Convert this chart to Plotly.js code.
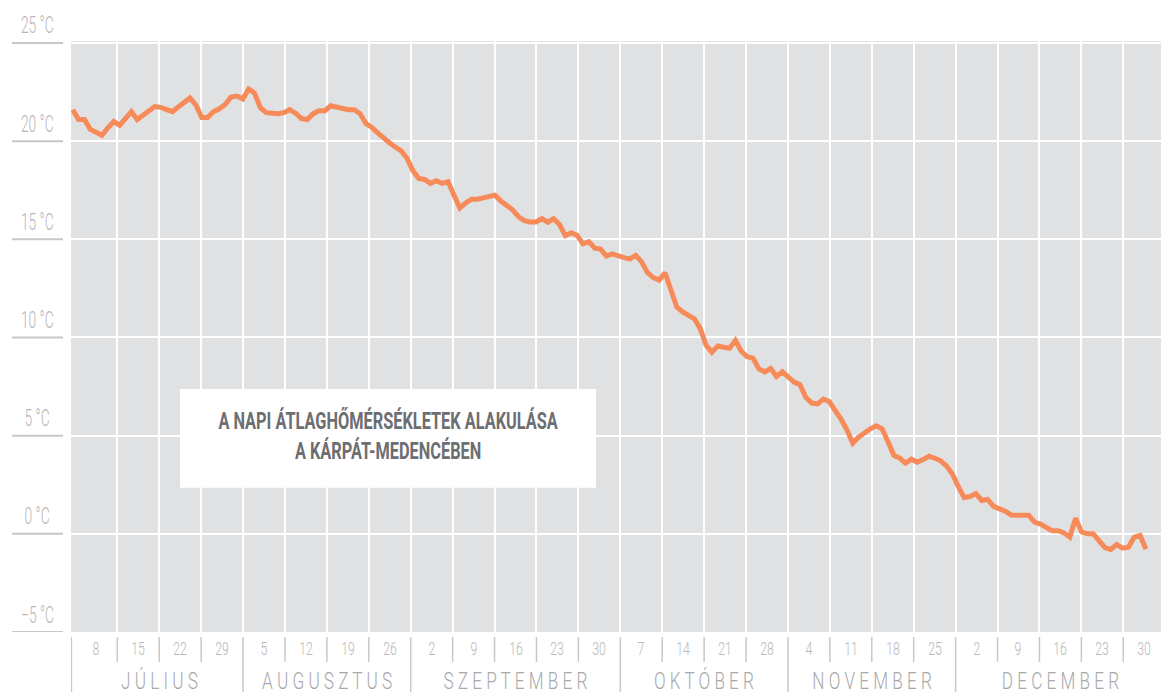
<!DOCTYPE html>
<html>
<head>
<meta charset="utf-8">
<script src="https://cdn.plot.ly/plotly-3.0.1.min.js"></script>
<style>
  html, body { margin: 0; padding: 0; background: #ffffff; }
  #chart { width: 1161px; height: 692px; }
</style>
</head>
<body>
<div id="chart"></div>
<script>
// Daily mean temperatures, 1 July - 31 December (°C)
const dayIndex = Array.from({length: 184}, (_, i) => i);
const temps = [
  21.6, 21.1, 21.1, 20.6, 20.45, 20.3, 20.68, 21.0, 20.8, 21.15,
  21.5, 21.1, 21.32, 21.54, 21.76, 21.72, 21.62, 21.5, 21.74, 22.0,
  22.2, 21.85, 21.2, 21.2, 21.5, 21.65, 21.87, 22.25, 22.3, 22.15,
  22.65, 22.45, 21.7, 21.45, 21.4, 21.4, 21.45, 21.6, 21.42, 21.15,
  21.1, 21.4, 21.55, 21.55, 21.8, 21.72, 21.65, 21.6, 21.6, 21.4,
  20.9, 20.7, 20.42, 20.15, 19.92, 19.7, 19.5, 19.13, 18.5, 18.1,
  18.05, 17.85, 17.98, 17.85, 17.93, 17.26, 16.6, 16.85, 17.04, 17.04,
  17.1, 17.2, 17.25, 16.95, 16.7, 16.5, 16.15, 15.95, 15.88, 15.88,
  16.05, 15.87, 16.05, 15.75, 15.18, 15.33, 15.2, 14.77, 14.88, 14.55,
  14.5, 14.15, 14.26, 14.15, 14.07, 14.0, 14.18, 13.85, 13.3, 13.05,
  12.92, 13.3, 12.4, 11.55, 11.3, 11.15, 10.95, 10.45, 9.6, 9.25,
  9.57, 9.5, 9.45, 9.85, 9.3, 9.02, 8.95, 8.4, 8.25, 8.42,
  8.02, 8.25, 7.97, 7.73, 7.6, 6.95, 6.66, 6.62, 6.86, 6.74,
  6.28, 5.85, 5.3, 4.62, 4.92, 5.15, 5.35, 5.5, 5.35, 4.7,
  4.0, 3.86, 3.6, 3.8, 3.65, 3.78, 3.95, 3.85, 3.72, 3.45,
  3.05, 2.4, 1.85, 1.9, 2.05, 1.7, 1.75, 1.4, 1.3, 1.15,
  0.96, 0.93, 0.94, 0.95, 0.6, 0.5, 0.3, 0.16, 0.16, 0.05,
  -0.17, 0.8, 0.1, 0.0, 0.0, -0.35, -0.7, -0.8, -0.55, -0.73,
  -0.68, -0.17, -0.09, -0.78
];

// Y ticks
const yTicks = [-5, 0, 5, 10, 15, 20, 25];
const yTickLabels = ["\u22125 °C", "0 °C", "5 °C", "10 °C", "15 °C", "20 °C", "25 °C"];

// Week columns (labelled with the Sunday closing each week)
const weekLabels = ["8","15","22","29","5","12","19","26","2","9","16","23","30",
                    "7","14","21","28","4","11","18","25","2","9","16","23","30"];
const weekBoundaries = Array.from({length: 25}, (_, i) => i + 1);

// Months with their span in week columns
const months = ["JÚLIUS","AUGUSZTUS","SZEPTEMBER","OKTÓBER","NOVEMBER","DECEMBER"];
const monthStart = [0, 4, 8, 13, 17, 21];
const monthEnd   = [4, 8, 13, 17, 21, 26];

const titleLines = ["A NAPI ÁTLAGHŐMÉRSÉKLETEK ALAKULÁSA", "A KÁRPÁT-MEDENCÉBEN"];

const FONT = 'Roboto, "DejaVu Sans", sans-serif';
const LABEL = '#b7b7b9';
const SEP = '#c8c8ca';
const PLOT_W = 1090, PLOT_H = 591.5;
const WEEK_RANGE = [-0.105, 25.9];

const shapes = [];
const annotations = [];
const condense = [];   // horizontal squeeze for each annotation (condensed face look)

// y labels with underline
yTicks.forEach((v, i) => {
  shapes.push({type: 'line', xref: 'paper', yref: 'y',
    x0: (12 - 71) / PLOT_W, x1: (63 - 71) / PLOT_W, y0: v, y1: v,
    line: {color: SEP, width: 2}});
  annotations.push({xref: 'paper', yref: 'y', x: (37 - 71) / PLOT_W, y: v,
    yshift: 17, xanchor: 'center', yanchor: 'middle', showarrow: false,
    text: yTickLabels[i], font: {family: FONT, size: 23, color: LABEL, weight: 300}});
  condense.push({group: 'y', sx: 0.6});
});

// week labels
weekLabels.forEach((t, k) => {
  annotations.push({xref: 'x2', yref: 'paper', x: k + 0.5, y: 0, yshift: -16,
    xanchor: 'center', yanchor: 'middle', showarrow: false, text: t,
    font: {family: FONT, size: 18, color: LABEL, weight: 300}});
  condense.push({group: 'day', sx: 0.68});
});

// separators below the plot
weekBoundaries.forEach(b => {
  if (monthStart.includes(b)) return;
  shapes.push({type: 'line', xref: 'x2', yref: 'paper', x0: b, x1: b,
    y0: -5 / PLOT_H, y1: -30 / PLOT_H, line: {color: SEP, width: 1.5}});
});
monthStart.forEach((b, i) => {
  const xb = i === 0 ? WEEK_RANGE[0] + 0.01 : b;
  shapes.push({type: 'line', xref: 'x2', yref: 'paper', x0: xb, x1: xb,
    y0: -5 / PLOT_H, y1: -62 / PLOT_H, line: {color: SEP, width: 1.5}});
});

// month labels
months.forEach((m, i) => {
  annotations.push({xref: 'x2', yref: 'paper', x: (monthStart[i] + monthEnd[i]) / 2,
    y: 0, yshift: -49, xanchor: 'center', yanchor: 'middle', showarrow: false,
    text: m.split('').join(' '), font: {family: FONT, size: 23, color: '#a9a9ab', weight: 300}});
  condense.push({group: 'month', target: 688});
});

// title box
shapes.push({type: 'rect', xref: 'paper', yref: 'paper', layer: 'above',
  x0: (180 - 71) / PLOT_W, x1: (596 - 71) / PLOT_W,
  y0: 1 - (488 - 40.8) / PLOT_H, y1: 1 - (389 - 40.8) / PLOT_H,
  fillcolor: '#ffffff', line: {width: 0}});
annotations.push({xref: 'paper', yref: 'paper', x: (388 - 71) / PLOT_W,
  y: 1 - (436 - 40.8) / PLOT_H, xanchor: 'center', yanchor: 'middle', showarrow: false,
  text: titleLines.join('<br>'),
  font: {family: FONT, size: 23, color: '#6d6e71', weight: 'bold'}});
condense.push({group: 'title', target: 340});

const trace = {
  x: dayIndex, y: temps, type: 'scatter', mode: 'lines',
  line: {color: '#f68b59', width: 5, shape: 'linear'},
  hoverinfo: 'y', xaxis: 'x', yaxis: 'y'
};
// empty trace to activate the week axis
const weekTrace = {x: [WEEK_RANGE[0]], y: [null], xaxis: 'x2', yaxis: 'y',
  type: 'scatter', mode: 'lines', showlegend: false, hoverinfo: 'skip'};

const layout = {
  width: 1161, height: 692,
  margin: {l: 71, r: 0, t: 40.8, b: 59.7, pad: 0},
  paper_bgcolor: '#ffffff', plot_bgcolor: '#e0e1e3',
  showlegend: false,
  xaxis: {range: [-0.29, 185.56], showgrid: false, zeroline: false,
    showticklabels: false, ticks: '', showline: false, fixedrange: true},
  xaxis2: {overlaying: 'x', anchor: 'y', range: WEEK_RANGE, tickvals: weekBoundaries,
    showgrid: true, gridcolor: '#ffffff', gridwidth: 2, zeroline: false,
    showticklabels: false, ticks: '', showline: false, side: 'bottom'},
  yaxis: {range: [-5, 25.1], tickvals: yTicks, showgrid: true, gridcolor: '#ffffff',
    gridwidth: 2, zeroline: false, showticklabels: false, ticks: '', showline: false},
  shapes: shapes,
  annotations: annotations
};

Plotly.newPlot('chart', [weekTrace, trace], layout, {displayModeBar: false, staticPlot: true})
.then(gd => {
  const items = [];
  gd.querySelectorAll('.annotation').forEach(g => {
    const idx = +g.getAttribute('data-index');
    const t = g.querySelector('text.annotation-text');
    if (!t || !condense[idx]) return;
    items.push({idx, t, bb: t.getBBox(), c: condense[idx]});
  });
  // group factors for width-targeted groups
  const sums = {};
  items.forEach(it => { if (it.c.target) { sums[it.c.group] = (sums[it.c.group] || 0) + it.bb.width; } });
  items.forEach(it => {
    let sx = it.c.sx;
    if (it.c.target) sx = it.c.target / sums[it.c.group];
    const cx = it.bb.x + it.bb.width / 2;
    const prev = it.t.getAttribute('transform') || '';
    it.t.setAttribute('transform', prev + ` translate(${cx},0) scale(${sx},1) translate(${-cx},0)`);
  });
});
</script>
</body>
</html>
